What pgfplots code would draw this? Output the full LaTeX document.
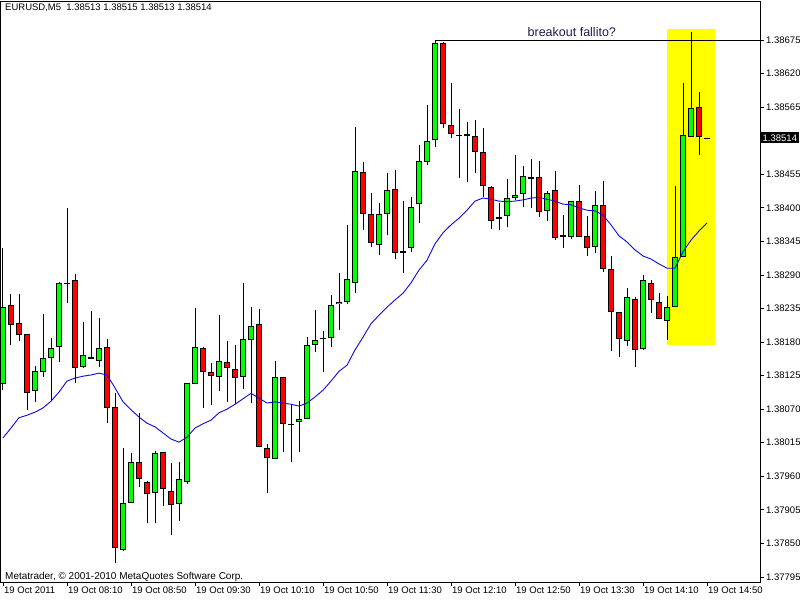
\documentclass[border=0pt]{standalone}
\usepackage{fontspec}
\setmainfont{Liberation Sans}
\usepackage{pgfplots}
\usepackage{pgfplotstable}
\pgfplotsset{compat=1.18}

\definecolor{mtgreen}{RGB}{0,255,0}
\definecolor{mtred}{RGB}{255,0,0}
\definecolor{mtblue}{RGB}{10,10,220}
\definecolor{mtyellow}{RGB}{255,255,0}
\definecolor{mtnavy}{RGB}{35,25,80}

% EURUSD M5, 19 Oct 2011, bar 0 = 07:30
\pgfplotstableread{
i o h l c
0 1.38111 1.38334 1.38101 1.38237
1 1.38241 1.38259 1.38175 1.38208
2 1.38211 1.38259 1.38182 1.38191
3 1.38193 1.38193 1.38069 1.38096
4 1.38100 1.38141 1.38082 1.38132
5 1.38131 1.38226 1.38123 1.38154
6 1.38154 1.38187 1.38083 1.38170
7 1.38172 1.38278 1.38147 1.38277
8 1.38276 1.38400 1.38244 1.38275
9 1.38282 1.38292 1.38113 1.38137
10 1.38139 1.38213 1.38137 1.38159
11 1.38155 1.38231 1.38152 1.38152
12 1.38149 1.38219 1.38139 1.38170
13 1.38172 1.38185 1.38047 1.38072
14 1.38073 1.38096 1.37818 1.37842
15 1.37839 1.38006 1.37837 1.37916
16 1.37916 1.37998 1.37916 1.37983
17 1.37983 1.38064 1.37942 1.37955
18 1.37951 1.37952 1.37883 1.37931
19 1.37933 1.38001 1.37883 1.37998
20 1.38000 1.38000 1.37911 1.37939
21 1.37936 1.37982 1.37864 1.37913
22 1.37914 1.37983 1.37887 1.37955
23 1.37951 1.38113 1.37947 1.38113
24 1.38111 1.38236 1.38111 1.38172
25 1.38170 1.38172 1.38072 1.38131
26 1.38131 1.38146 1.38077 1.38124
27 1.38123 1.38224 1.38100 1.38149
28 1.38147 1.38182 1.38082 1.38137
29 1.38136 1.38175 1.38078 1.38121
30 1.38123 1.38277 1.38103 1.38185
31 1.38183 1.38237 1.38080 1.38206
32 1.38210 1.38234 1.38008 1.38008
33 1.38006 1.38013 1.37933 1.37990
34 1.37988 1.38149 1.37988 1.38123
35 1.38123 1.38123 1.38000 1.38046
36 1.38044 1.38078 1.37983 1.38044
37 1.38049 1.38083 1.38000 1.38054
38 1.38054 1.38188 1.38054 1.38175
39 1.38175 1.38232 1.38164 1.38183
40 1.38185 1.38198 1.38131 1.38185
41 1.38187 1.38257 1.38172 1.38241
42 1.38242 1.38293 1.38200 1.38246
43 1.38246 1.38372 1.38242 1.38283
44 1.38277 1.38532 1.38260 1.38460
45 1.38459 1.38475 1.38364 1.38390
46 1.38390 1.38424 1.38336 1.38342
47 1.38339 1.38408 1.38323 1.38390
48 1.38390 1.38457 1.38355 1.38429
49 1.38431 1.38462 1.38316 1.38326
50 1.38326 1.38411 1.38293 1.38329
51 1.38334 1.38418 1.38328 1.38401
52 1.38406 1.38503 1.38375 1.38477
53 1.38475 1.38569 1.38470 1.38510
54 1.38511 1.38675 1.38500 1.38670
55 1.38670 1.38672 1.38531 1.38537
56 1.38536 1.38605 1.38514 1.38521
57 1.38518 1.38562 1.38449 1.38518
58 1.38518 1.38541 1.38442 1.38521
59 1.38518 1.38544 1.38457 1.38491
60 1.38491 1.38531 1.38418 1.38436
61 1.38434 1.38436 1.38365 1.38378
62 1.38382 1.38408 1.38364 1.38385
63 1.38387 1.38447 1.38368 1.38416
64 1.38416 1.38487 1.38413 1.38421
65 1.38423 1.38469 1.38401 1.38452
66 1.38450 1.38480 1.38400 1.38447
67 1.38450 1.38477 1.38385 1.38393
68 1.38395 1.38427 1.38378 1.38424
69 1.38429 1.38460 1.38347 1.38350
70 1.38352 1.38388 1.38334 1.38355
71 1.38352 1.38411 1.38349 1.38411
72 1.38411 1.38437 1.38352 1.38352
73 1.38354 1.38387 1.38321 1.38334
74 1.38336 1.38427 1.38326 1.38405
75 1.38405 1.38444 1.38295 1.38300
76 1.38300 1.38321 1.38165 1.38229
77 1.38229 1.38229 1.38155 1.38185
78 1.38182 1.38268 1.38173 1.38254
79 1.38250 1.38254 1.38139 1.38167
80 1.38168 1.38290 1.38167 1.38282
81 1.38277 1.38282 1.38228 1.38249
82 1.38246 1.38260 1.38218 1.38218
83 1.38214 1.38255 1.38183 1.38237
84 1.38237 1.38436 1.38237 1.38319
85 1.38319 1.38605 1.38319 1.38519
86 1.38516 1.38688 1.38516 1.38564
87 1.38565 1.38590 1.38487 1.38516
88 1.38513 1.38515 1.38513 1.38514
}\ohlc

% moving average
\pgfplotstableread{
i ma
0 1.38023
1 1.38039
2 1.38056
3 1.38060
4 1.38065
5 1.38072
6 1.38083
7 1.38098
8 1.38116
9 1.38121
10 1.38124
11 1.38126
12 1.38129
13 1.38126
14 1.38105
15 1.38082
16 1.38069
17 1.38057
18 1.38047
19 1.38041
20 1.38031
21 1.38021
22 1.38016
23 1.38024
24 1.38039
25 1.38046
26 1.38052
27 1.38064
28 1.38070
29 1.38078
30 1.38087
31 1.38096
32 1.38088
33 1.38080
34 1.38082
35 1.38080
36 1.38078
37 1.38075
38 1.38080
39 1.38090
40 1.38101
41 1.38116
42 1.38132
43 1.38142
44 1.38167
45 1.38188
46 1.38210
47 1.38224
48 1.38237
49 1.38249
50 1.38260
51 1.38277
52 1.38298
53 1.38314
54 1.38341
55 1.38359
56 1.38372
57 1.38383
58 1.38396
59 1.38411
60 1.38416
61 1.38414
62 1.38411
63 1.38410
64 1.38411
65 1.38413
66 1.38416
67 1.38417
68 1.38414
69 1.38411
70 1.38406
71 1.38405
72 1.38400
73 1.38396
74 1.38395
75 1.38388
76 1.38372
77 1.38354
78 1.38344
79 1.38331
80 1.38321
81 1.38316
82 1.38308
83 1.38301
84 1.38301
85 1.38328
86 1.38347
87 1.38362
88 1.38375
}\matable

\begin{document}
\begin{tikzpicture}[font=\fontsize{9.5}{11}\selectfont]
\useasboundingbox (0,0) rectangle (800pt,600pt);
\begin{axis}[
    at={(1pt,18pt)}, anchor=south west,
    width=759pt, height=580pt, scale only axis,
    xmin=-0.25, xmax=94.625,
    ymin=1.377867, ymax=1.387373,
    axis line style={black, line width=1pt},
    tick style={black, line width=0.8pt},
    tick align=outside, major tick length=4pt,
    xtick pos=lower, ytick pos=right, yticklabel pos=right,
    scaled y ticks=false,
    xtick={0,8,...,88},
    xticklabels={19 Oct 2011, 19 Oct 08:10, 19 Oct 08:50, 19 Oct 09:30,
      19 Oct 10:10, 19 Oct 10:50, 19 Oct 11:30, 19 Oct 12:10,
      19 Oct 12:50, 19 Oct 13:30, 19 Oct 14:10, 19 Oct 14:50},
    xticklabel style={anchor=north west, inner sep=0pt, xshift=1pt, yshift=-1pt},
    ytick={1.37795,1.37850,1.37905,1.37960,1.38015,1.38070,1.38125,1.38180,
      1.38235,1.38290,1.38345,1.38400,1.38455,1.38510,1.38565,1.38620,1.38675},
    % the 1.38510 label sits under the current-price tag
    yticklabels={1.37795,1.37850,1.37905,1.37960,1.38015,1.38070,1.38125,1.38180,
      1.38235,1.38290,1.38345,1.38400,1.38455,{},1.38565,1.38620,1.38675},
    yticklabel style={anchor=west, inner sep=0pt, xshift=2pt},
    /pgf/number format/assume math mode=true,
    every tick label/.append style={font=\fontsize{9.5}{11}\selectfont},
]
% highlight box
\addplot[fill=mtyellow, draw=none] coordinates
  {(83,1.38175) (89,1.38175) (89,1.38693) (83,1.38693)};

% wicks
\addplot[draw=none, mark=none,
  error bars/.cd, y dir=plus, y explicit, error mark=none,
  error bar style={black, line width=1pt}]
  table[x=i, y=l, y error plus expr={\thisrow{h}-\thisrow{l}}] {\ohlc};

% bodies: black outline layer
\addplot[draw=none, mark=none,
  error bars/.cd, y dir=plus, y explicit, error mark=none,
  error bar style={black, line width=6pt}]
  table[x=i, y expr={min(\thisrow{o},\thisrow{c})},
        y error plus expr={max(abs(\thisrow{c}-\thisrow{o}),0.000016)}] {\ohlc};

% bullish fill
\addplot[draw=none, mark=none,
  error bars/.cd, y dir=plus, y explicit, error mark=none,
  error bar style={mtgreen, line width=4pt}]
  table[x=i, y expr={(\thisrow{c}-\thisrow{o}>0.000033) ? \thisrow{o}+0.0000164 : nan},
        y error plus expr={\thisrow{c}-\thisrow{o}-0.0000328}] {\ohlc};

% bearish fill
\addplot[draw=none, mark=none,
  error bars/.cd, y dir=plus, y explicit, error mark=none,
  error bar style={mtred, line width=4pt}]
  table[x=i, y expr={(\thisrow{o}-\thisrow{c}>0.000033) ? \thisrow{c}+0.0000164 : nan},
        y error plus expr={\thisrow{o}-\thisrow{c}-0.0000328}] {\ohlc};

% moving average
\addplot[mtblue, line width=0.9pt, mark=none] table[x=i, y=ma] {\matable};

% breakout line
\addplot[black, line width=0.9pt, mark=none] coordinates {(54,1.38675) (94.625,1.38675)};

\node[anchor=base, inner sep=0pt, text=mtnavy, font=\fontsize{12.5}{14}\selectfont]
  at (axis cs:71.1,1.38680) {breakout fallito?};
\end{axis}

% current price tag
\node[fill=black, text=white, anchor=west, inner sep=1.5pt, minimum height=11pt]
  at (761pt,{600pt-138pt}) {1.38514};

\node[anchor=north west, inner sep=0pt] at (5pt,596pt)
  {EURUSD,M5\ \ 1.38513 1.38515 1.38513 1.38514};
\node[anchor=base west, inner sep=0pt, font=\fontsize{10}{12}\selectfont] at (5pt,21pt)
  {Metatrader, © 2001-2010 MetaQuotes Software Corp.};
\end{tikzpicture}
\end{document}
